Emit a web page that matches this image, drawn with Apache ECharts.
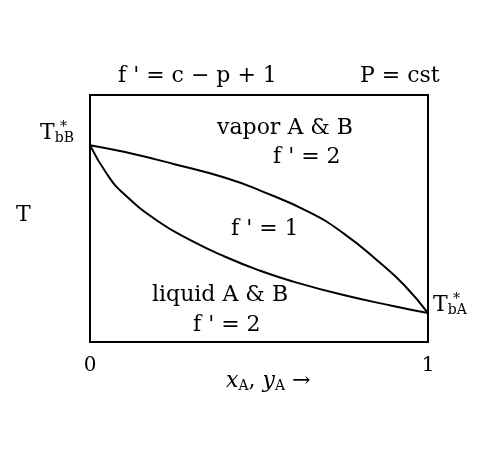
<!DOCTYPE html>
<html><head><meta charset="utf-8">
<script src="https://cdn.jsdelivr.net/npm/echarts@6/dist/echarts.min.js"></script>
<style>html,body{margin:0;padding:0;background:#fff}#c{width:480px;height:449px}</style>
</head><body><div id="c"></div>
<script>
const xTicks = [0, 1];
const vaporCurve = [[0,0.797],[0.1,0.77],[0.25,0.72],[0.4,0.665],[0.5,0.615],[0.65,0.525],[0.75,0.44],[0.85,0.33],[0.93,0.23],[1,0.117]];
const liquidCurve = [[0,0.797],[0.05,0.68],[0.1,0.6],[0.2,0.49],[0.3,0.41],[0.4,0.345],[0.5,0.29],[0.6,0.245],[0.75,0.19],[0.9,0.145],[1,0.117]];
const F = 'DejaVu Serif';
const chart = echarts.init(document.getElementById('c'));
const sub = {fontFamily:F,fontSize:14,verticalAlign:'bottom',padding:[10,0,0,0]};
const sup = {fontFamily:F,fontSize:14,verticalAlign:'top',padding:[0,0,12,0]};
function txt(x,y,t,align,extra){return {type:'text',left:x,top:y,style:Object.assign({text:t,font:'22px "DejaVu Serif"',fill:'#000',textAlign:align||'left'},extra||{})};}
chart.setOption({
  animation:false,
  grid:{left:90,top:95,width:338,height:247,show:true,borderColor:'#000',borderWidth:2},
  xAxis:{type:'value',min:0,max:1,interval:1,axisLine:{show:false},axisTick:{show:false},splitLine:{show:false},
    axisLabel:{fontFamily:F,fontSize:20,color:'#000',margin:14,formatter:v=>xTicks.includes(v)?String(v):''}},
  yAxis:{type:'value',min:0,max:1,show:false},
  series:[
    {type:'line',data:vaporCurve,smooth:true,symbol:'none',lineStyle:{color:'#000',width:2}},
    {type:'line',data:liquidCurve,smooth:true,symbol:'none',lineStyle:{color:'#000',width:2}}
  ],
  graphic:[
    txt(118,65,"f ' = c − p + 1"),
    txt(360,65,"P = cst"),
    txt(217,117,"vapor A & B"),
    txt(273,146,"f ' = 2"),
    txt(231,218,"f ' = 1"),
    txt(152,284,"liquid A & B"),
    txt(193,314,"f ' = 2"),
    txt(16,204,"T"),
    {type:'text',left:40,top:122,style:{text:'{m|T}{s|bB}',rich:{m:{fontFamily:F,fontSize:22},s:sub},fill:'#000'}},
    {type:'text',left:60,top:120,style:{text:'*',font:'14px "DejaVu Serif"',fill:'#000'}},
    {type:'text',left:433,top:294,style:{text:'{m|T}{s|bA}',rich:{m:{fontFamily:F,fontSize:22},s:sub},fill:'#000'}},
    {type:'text',left:453,top:292,style:{text:'*',font:'14px "DejaVu Serif"',fill:'#000'}},
    {type:'text',left:226,top:370,style:{text:'{m|x}{s|A}{n|, }{m|y}{s|A}{n| →}',rich:{m:{fontFamily:F,fontSize:22,fontStyle:'italic'},n:{fontFamily:F,fontSize:22},s:sub},fill:'#000'}}
  ]
});
</script></body></html>
